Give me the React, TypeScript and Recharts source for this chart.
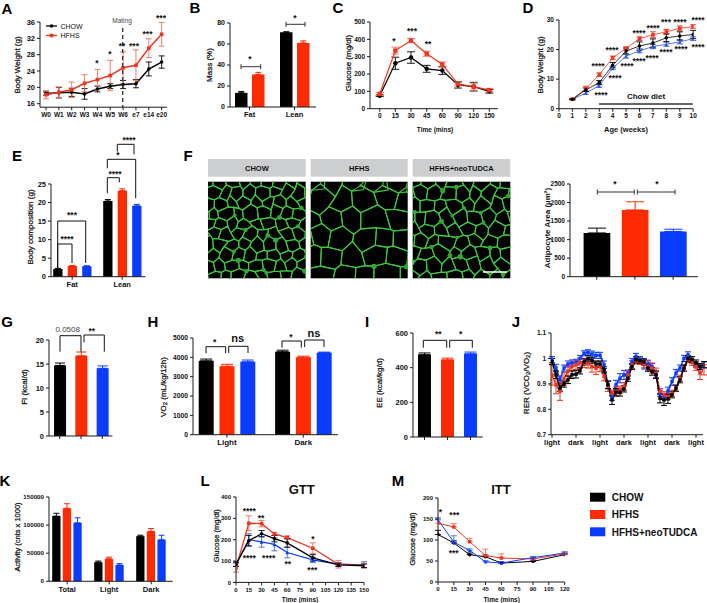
import { BarChart, Bar, LineChart, Line, XAxis, YAxis, ErrorBar } from 'recharts';

const FONT = '"Liberation Sans", Arial, sans-serif';
const BLACK = '#000000';
const RED = '#ff2a00';
const BLUE = '#0a3cff';
const INK = '#1a1a1a';

// A body weight
const weekLabels = ['W0', 'W1', 'W2', 'W3', 'W4', 'W5', 'W6', 'e7', 'e14', 'e20'];
const aChow = [18.5, 18.7, 18.8, 18.4, 19.6, 20.3, 20.7, 20.9, 24.5, 26.2];
const aChowErr = [0.4, 1.3, 1.0, 1.3, 0.7, 0.6, 1.0, 1.0, 1.7, 1.5];
const aHfhs = [18.2, 18.8, 19.4, 21, 21.9, 22.9, 24.8, 25.4, 29.6, 33];
const aHfhsErr = [1, 1.3, 1.9, 2.1, 2.5, 3.7, 3.9, 3.8, 2.3, 2.9];

// B mass
const massCats = ['Fat', 'Lean'];
const bChow = [13.5, 71.3];
const bChowErr = [1.3, 0.3];
const bHfhs = [31, 61];
const bHfhsErr = [2, 2];

// C glucose
const cLabels = ['0', '15', '30', '45', '60', '90', '120', '150'];
const cChow = [75, 262, 295, 230, 220, 137, 127, 100];
const cChowErr = [5, 35, 33, 20, 22, 18, 25, 10];
const cHfhs = [85, 335, 393, 317, 255, 142, 127, 107];
const cHfhsErr = [8, 20, 12, 15, 15, 10, 20, 10];

// D offspring weight
const dAges = [1, 2, 3, 4, 5, 6, 7, 8, 9, 10];
const dAgeTicks = [0, 1, 2, 3, 4, 5, 6, 7, 8, 9, 10];
const dChow = [3.2, 6.4, 8.8, 14.7, 19.5, 21.2, 22.2, 24, 24.6, 25.1];
const dChowErr = [0.2, 0.6, 0.7, 0.9, 1.0, 1.4, 1.4, 1.3, 1.4, 1.4];
const dHfhs = [3.2, 6.8, 11.5, 17.2, 20.4, 23.7, 25, 26, 27.2, 27.8];
const dHfhsErr = [0.2, 0.8, 0.6, 0.6, 0.5, 0.6, 1.0, 0.8, 0.8, 0.6];
const dTudca = [3.2, 5.3, 7.8, 13.7, 17.8, 19.6, 21, 21.8, 22.6, 23.7];
const dTudcaErr = [0.2, 0.5, 0.6, 0.5, 0.7, 0.7, 0.7, 0.7, 0.7, 0.6];

// E composition
const eChow = [2.1, 20.4];
const eChowErr = [0.15, 0.4];
const eHfhs = [2.9, 23.2];
const eHfhsErr = [0.15, 0.5];
const eTudca = [2.8, 19.1];
const eTudcaErr = [0.15, 0.4];

// F adipocyte area, G food intake, I energy expenditure
const groupSlots = ['CHOW', 'HFHS', 'HFHS+neoTUDCA'];
const fArea = [1180, 1800, 1220];
const fAreaErr = [130, 220, 60];
const gIntake = [14.7, 16.7, 14.1];
const gIntakeErr = [0.5, 0.8, 0.5];
const iEnergy = [475, 445, 480];
const iEnergyErr = [10, 10, 10];
const microscopyTitles = ['CHOW', 'HFHS', 'HFHS+neoTUDCA'];

// H VO2
const lightDark = ['Light', 'Dark'];
const hChow = [3820, 4290];
const hChowErr = [90, 80];
const hHfhs = [3540, 4010];
const hHfhsErr = [100, 50];
const hTudca = [3770, 4240];
const hTudcaErr = [90, 30];

// J RER, one reading every 2 h
const rerHours = [0, 2, 4, 6, 8, 10, 12, 14, 16, 18, 20, 22, 24, 26, 28, 30, 32, 34, 36, 38, 40, 42, 44, 46, 48, 50, 52, 54, 56, 58, 60, 62, 64, 66, 68, 70, 72, 74, 76];
const rerTickHours = [0, 12, 24, 36, 48, 60, 72];
const rerTickLabels = ['light', 'dark', 'light', 'dark', 'light', 'dark', 'light'];
const rerChow = [0.988, 0.936, 0.883, 0.899, 0.916, 0.936, 0.938, 0.951, 0.986, 0.999, 0.993, 0.978, 0.978, 0.955, 0.896, 0.837, 0.867, 0.867, 0.88, 0.922, 0.968, 0.995, 0.991, 0.986, 0.962, 0.949, 0.936, 0.843, 0.837, 0.841, 0.857, 0.883, 0.916, 0.962, 0.999, 0.995, 0.982, 0.968, 0.975];
const rerChowErr = [0.012, 0.015, 0.012, 0.012, 0.015, 0.015, 0.015, 0.012, 0.012, 0.012, 0.012, 0.012, 0.012, 0.012, 0.015, 0.018, 0.015, 0.015, 0.012, 0.012, 0.012, 0.012, 0.01, 0.012, 0.012, 0.015, 0.015, 0.018, 0.022, 0.018, 0.012, 0.012, 0.012, 0.012, 0.012, 0.012, 0.012, 0.012, 0.012];
const rerHfhs = [0.935, 0.896, 0.87, 0.92, 0.95, 0.968, 0.975, 0.982, 0.982, 0.98, 0.968, 0.962, 0.968, 0.93, 0.89, 0.863, 0.87, 0.876, 0.89, 0.935, 0.975, 0.99, 0.988, 0.978, 0.968, 0.962, 0.942, 0.87, 0.857, 0.85, 0.863, 0.883, 0.922, 0.962, 0.995, 0.985, 0.968, 0.942, 0.955];
const rerHfhsErr = [0.04, 0.035, 0.035, 0.025, 0.02, 0.018, 0.018, 0.02, 0.018, 0.018, 0.022, 0.025, 0.02, 0.018, 0.02, 0.012, 0.018, 0.015, 0.015, 0.015, 0.015, 0.012, 0.012, 0.015, 0.018, 0.02, 0.02, 0.012, 0.012, 0.012, 0.012, 0.012, 0.012, 0.012, 0.012, 0.012, 0.015, 0.025, 0.02];
const rerTudca = [0.995, 0.962, 0.916, 0.962, 0.978, 0.982, 0.985, 1.0, 1.02, 1.024, 1.017, 1.012, 1.012, 0.975, 0.896, 0.85, 0.896, 0.922, 0.935, 0.942, 0.988, 1.008, 0.995, 0.978, 0.978, 0.968, 0.936, 0.863, 0.85, 0.872, 0.909, 0.942, 0.962, 1.0, 1.014, 0.995, 0.975, 0.968, 0.975];
const rerTudcaErr = [0.012, 0.015, 0.015, 0.012, 0.012, 0.012, 0.012, 0.012, 0.01, 0.01, 0.012, 0.012, 0.012, 0.015, 0.015, 0.015, 0.018, 0.018, 0.018, 0.012, 0.012, 0.012, 0.012, 0.02, 0.015, 0.012, 0.012, 0.012, 0.012, 0.015, 0.015, 0.015, 0.012, 0.012, 0.012, 0.012, 0.012, 0.012, 0.012];

// K activity
const kCats = ['Total', 'Light', 'Dark'];
const kChow = [116000, 34000, 80000];
const kChowErr = [5000, 2000, 2000];
const kHfhs = [130000, 40000, 89000];
const kHfhsErr = [8000, 3000, 5000];
const kTudca = [104000, 29000, 74000];
const kTudcaErr = [9000, 2500, 8000];

// L GTT
const lMins = [0, 15, 30, 45, 60, 90, 120, 150];
const lTicks = [0, 15, 30, 45, 60, 75, 90, 105, 120, 135, 150];
const lChow = [85, 195, 228, 205, 185, 115, 82, 78];
const lChowErr = [10, 25, 15, 15, 20, 15, 8, 8];
const lHfhs = [68, 277, 275, 227, 210, 160, 85, 80];
const lHfhsErr = [20, 35, 15, 8, 8, 25, 18, 10];
const lTudca = [85, 200, 190, 178, 140, 105, 85, 82];
const lTudcaErr = [10, 28, 25, 30, 25, 12, 8, 15];

// M ITT
const mMins = [0, 15, 30, 45, 60, 90, 120];
const mTicks = [0, 15, 30, 45, 60, 75, 90, 105, 120];
const mChow = [113, 93, 65, 60, 45, 49, 65];
const mChowErr = [10, 5, 4, 4, 3, 3, 3];
const mHfhs = [140, 131, 96, 63, 57, 55, 67];
const mHfhsErr = [10, 8, 8, 15, 10, 5, 4];
const mTudca = [148, 95, 75, 48, 45, 58, 69];
const mTudcaErr = [5, 15, 4, 3, 3, 3, 3];

const legendNames = ['CHOW', 'HFHS', 'HFHS+neoTUDCA'];

const PAD_TOP = 12;
const PAD_RIGHT = 8;
const Y_W = 34;
const X_H = 24;

type Plot = [number, number, number, number];

function axisProps(fontSize: number) {
  return {
    stroke: INK,
    strokeWidth: 1,
    tickLine: { stroke: INK },
    tickSize: 3,
    interval: 0 as const,
    tick: { fontSize, fontWeight: 700, fill: '#111', fontFamily: FONT },
  };
}

function frame(plot: Plot) {
  const [x0, y0, x1, y1] = plot;
  return {
    style: { position: 'absolute' as const, left: x0 - Y_W, top: y0 - PAD_TOP },
    width: x1 - x0 + Y_W + PAD_RIGHT,
    height: y1 - y0 + PAD_TOP + X_H,
    margin: { top: PAD_TOP, right: PAD_RIGHT, left: 0, bottom: 0 },
  };
}

type BarSeries = { key: string; color: string; values: (number | null)[]; errors: (number | null)[] };

function BarPanel(props: {
  plot: Plot; yDomain: number[]; yTicks: number[]; cats: string[]; series: BarSeries[];
  center: number; step: number; barSize: number; barGap: number; noLabels?: boolean;
  fontSize?: number; xFontSize?: number; errWidth?: number;
}) {
  const { plot, yDomain, yTicks, cats, series, center, step, barSize, barGap, fontSize = 7 } = props;
  const rows = cats.map((c, i) => {
    const row: Record<string, unknown> = { x: i, name: c };
    series.forEach((s) => {
      if (s.values[i] === null) return;
      row[s.key] = s.values[i];
      row[s.key + 'Err'] = [0, s.errors[i]];
    });
    return row;
  });
  return (
    <BarChart {...frame(plot)} data={rows} barSize={barSize} barGap={barGap}>
      <XAxis
        type="number"
        dataKey="x"
        domain={[(plot[0] - center) / step, (plot[2] - center) / step]}
        ticks={cats.map((_, i) => i)}
        height={X_H}
        allowDataOverflow
        tickFormatter={(v: number) => (props.noLabels ? '' : cats[v])}
        {...axisProps(props.xFontSize ?? fontSize)}
      />
      <YAxis type="number" width={Y_W} domain={yDomain} ticks={yTicks} {...axisProps(fontSize)} />
      {series.map((s) => (
        <Bar key={s.key} dataKey={s.key} fill={s.color} isAnimationActive={false}>
          <ErrorBar dataKey={s.key + 'Err'} width={props.errWidth ?? 3} stroke={s.color} strokeWidth={1} direction="y" />
        </Bar>
      ))}
    </BarChart>
  );
}

type LineSeries = {
  key: string; color: string; values: number[]; errors: number[];
  marker: 'circle' | 'square' | 'triangle'; lighter?: string;
};

function Marker(p: { cx?: number; cy?: number; marker: string; color: string; size: number }) {
  const { cx = 0, cy = 0, marker, color, size } = p;
  if (marker === 'square') return <rect x={cx - size} y={cy - size} width={size * 2} height={size * 2} fill={color} />;
  if (marker === 'triangle')
    return <polygon points={`${cx},${cy - size} ${cx + size},${cy + size} ${cx - size},${cy + size}`} fill={color} />;
  return <circle cx={cx} cy={cy} r={size} fill={color} />;
}

function LinePanel(props: {
  plot: Plot; xs: number[]; xDomain: number[]; xTicks: number[]; xLabel?: (v: number) => string;
  yDomain: number[]; yTicks: number[]; series: LineSeries[]; lineWidth: number; size: number;
  fontSize?: number; xFontSize?: number; errWidth?: number; errStroke?: number; upOnly?: boolean;
}) {
  const { plot, xs, xDomain, xTicks, yDomain, yTicks, series, lineWidth, size, fontSize = 7 } = props;
  const rows = xs.map((x, i) => {
    const row: Record<string, unknown> = { x };
    series.forEach((s) => {
      row[s.key] = s.values[i];
      row[s.key + 'Err'] = [props.upOnly ? 0 : s.errors[i], s.errors[i]];
    });
    return row;
  });
  return (
    <LineChart {...frame(plot)} data={rows}>
      <XAxis
        type="number"
        dataKey="x"
        domain={xDomain}
        ticks={xTicks}
        height={X_H}
        allowDataOverflow
        tickFormatter={props.xLabel ?? ((v: number) => String(v))}
        {...axisProps(props.xFontSize ?? fontSize)}
      />
      <YAxis type="number" width={Y_W} domain={yDomain} ticks={yTicks} allowDataOverflow {...axisProps(fontSize)} />
      {series.map((s) => (
        <Line
          key={s.key}
          dataKey={s.key}
          stroke={s.color}
          strokeWidth={lineWidth}
          isAnimationActive={false}
          dot={(d: any) => <Marker key={d.index} cx={d.cx} cy={d.cy} marker={s.marker} color={s.color} size={size} />}
        >
          <ErrorBar dataKey={s.key + 'Err'} width={props.errWidth ?? 3} stroke={s.lighter ?? s.color} strokeWidth={props.errStroke ?? 0.9} direction="y" />
        </Line>
      ))}
    </LineChart>
  );
}

function T(p: {
  x: number; y: number; children: React.ReactNode; size?: number; bold?: boolean; rotate?: boolean;
  anchor?: 'middle' | 'start'; fill?: string;
}) {
  const { x, y, size = 8, bold = false, rotate = false, anchor = 'middle', fill = '#111' } = p;
  return (
    <text
      x={x}
      y={y}
      fontSize={size}
      fontWeight={bold ? 700 : 400}
      textAnchor={anchor}
      dominantBaseline="central"
      fill={fill}
      stroke={rotate && !bold ? fill : undefined}
      strokeWidth={rotate && !bold ? 0.25 : undefined}
      fontFamily={FONT}
      transform={rotate ? `rotate(-90 ${x} ${y})` : undefined}
    >
      {p.children}
    </text>
  );
}

const Stars = (p: { x: number; y: number; n: number }) => (
  <T x={p.x} y={p.y + 1.5} size={8.5} bold>
    {'*'.repeat(p.n)}
  </T>
);

const Letter = (p: { x: number; y: number; c: string }) => (
  <T x={p.x} y={p.y} size={15} bold fill="#000">
    {p.c}
  </T>
);

// bracket: top bar with legs reaching down to b0 and b1
const Br = (p: { x0: number; x1: number; top: number; b0: number; b1: number }) => (
  <path
    d={`M${p.x0} ${p.b0}V${p.top}H${p.x1}V${p.b1}`}
    fill="none"
    stroke="#111"
    strokeWidth={1}
  />
);

// flat bar with end caps
const Cap = (p: { x0: number; x1: number; y: number }) => (
  <path
    d={`M${p.x0} ${p.y - 2.5}V${p.y + 2.5}M${p.x0} ${p.y}H${p.x1}M${p.x1} ${p.y - 2.5}V${p.y + 2.5}`}
    fill="none"
    stroke="#333"
    strokeWidth={1}
  />
);

// stand-in for a confocal image: a hash-jittered hexagon mesh, not chart data
function hash(a: number, b: number, seed: number) {
  const s = Math.sin(a * 12.9898 + b * 78.233 + seed * 37.719) * 43758.5453;
  return s - Math.floor(s);
}

function Mesh(p: { x: number; y: number; w: number; h: number; r: number; seed: number; id: string }) {
  const { x, y, w, h, r, seed, id } = p;
  const dx = Math.sqrt(3) * r;
  const dy = 1.5 * r;
  const polys: string[] = [];
  const blobs: { cx: number; cy: number; rr: number }[] = [];
  for (let row = -1; row * dy < h + dy; row++) {
    for (let col = -1; col * dx < w + dx; col++) {
      const cx = col * dx + (row % 2 ? dx / 2 : 0);
      const cy = row * dy;
      const corners = [0, 1, 2, 3, 4, 5].map((k) => {
        const ang = Math.PI / 6 + (k * Math.PI) / 3;
        const vx = cx + r * Math.cos(ang);
        const vy = cy + r * Math.sin(ang);
        const ka = Math.round(vx * 2);
        const kb = Math.round(vy * 2);
        const jx = (hash(ka, kb, seed) - 0.5) * r * 0.7;
        const jy = (hash(kb, ka, seed + 1) - 0.5) * r * 0.7;
        return [x + vx + jx, y + vy + jy];
      });
      polys.push(corners.map((c) => `${c[0].toFixed(1)},${c[1].toFixed(1)}`).join(' '));
      if (hash(row, col, seed + 2) > 0.8) {
        const c = corners[Math.floor(hash(col, row, seed + 3) * 6)];
        blobs.push({ cx: c[0], cy: c[1], rr: 1.2 + hash(row, col, seed + 4) * 1.6 });
      }
    }
  }
  return (
    <g>
      <clipPath id={id}>
        <rect x={x} y={y} width={w} height={h} />
      </clipPath>
      <rect x={x} y={y} width={w} height={h} fill="#000" />
      <g clipPath={`url(#${id})`}>
        {polys.map((pts, i) => (
          <polygon key={i} points={pts} fill="none" stroke="#3ccb3c" strokeWidth={1.1} strokeLinejoin="round" />
        ))}
        {blobs.map((b, i) => (
          <circle key={i} cx={b.cx} cy={b.cy} r={b.rr} fill="#32a832" />
        ))}
      </g>
    </g>
  );
}

const sBar = (values: number[], errors: number[], key: string, color: string): BarSeries => ({ key, color, values, errors });

// one bar per slot: each group only has a value in its own slot
const soloBars = (values: number[], errors: number[]): BarSeries[] =>
  [['chow', BLACK], ['hfhs', RED], ['tudca', BLUE]].map(([key, color], i) => ({
    key,
    color,
    values: values.map((v, j) => (j === i ? v : null)),
    errors: errors.map((v, j) => (j === i ? v : null)),
  }));

export default function App() {
  return (
    <div style={{ position: 'absolute', left: 0, top: 0, width: 707, height: 603, background: '#fff', overflow: 'hidden' }}>
      {/* A */}
      <LinePanel
        plot={[40, 22.3, 167, 107.5]}
        xs={weekLabels.map((_, i) => i)}
        xDomain={[(40 - 46) / 12.85, (167 - 46) / 12.85]}
        xTicks={weekLabels.map((_, i) => i)}
        xLabel={(v) => weekLabels[v]}
        yDomain={[15.15, 36]}
        yTicks={[16, 20, 24, 28, 32, 36]}
        lineWidth={1.5}
        size={1.8}
        fontSize={7.5}
        xFontSize={6.5}
        series={[
          { key: 'chow', color: BLACK, values: aChow, errors: aChowErr, marker: 'circle' },
          { key: 'hfhs', color: '#ee3520', lighter: '#f0705e', values: aHfhs, errors: aHfhsErr, marker: 'square' },
        ]}
      />
      {/* B */}
      <BarPanel
        plot={[230, 23.3, 316, 107.3]}
        yDomain={[0, 80]}
        yTicks={[0, 20, 40, 60, 80]}
        cats={massCats}
        center={249.5}
        step={45}
        barSize={12.5}
        barGap={4.5}
        fontSize={7}
        xFontSize={7.5}
        series={[sBar(bChow, bChowErr, 'chow', BLACK), sBar(bHfhs, bHfhsErr, 'hfhs', RED)]}
      />
      {/* C */}
      <LinePanel
        plot={[370, 22, 498, 108.7]}
        xs={cLabels.map((_, i) => i)}
        xDomain={[(370 - 379.7) / 15.66, (498 - 379.7) / 15.66]}
        xTicks={cLabels.map((_, i) => i)}
        xLabel={(v) => cLabels[v]}
        yDomain={[0, 500]}
        yTicks={[0, 100, 200, 300, 400, 500]}
        lineWidth={1.2}
        size={2.2}
        fontSize={6.5}
        errWidth={4}
        series={[
          { key: 'chow', color: BLACK, values: cChow, errors: cChowErr, marker: 'circle' },
          { key: 'hfhs', color: '#ee3520', lighter: '#f0705e', values: cHfhs, errors: cHfhsErr, marker: 'square' },
        ]}
      />
      {/* D */}
      <LinePanel
        plot={[558.5, 20, 692.7, 108.7]}
        xs={dAges}
        xDomain={[0, 10]}
        xTicks={dAgeTicks}
        yDomain={[0, 30]}
        yTicks={[0, 10, 20, 30]}
        lineWidth={0.8}
        size={1.8}
        fontSize={6.5}
        series={[
          { key: 'tudca', color: '#2a55e8', values: dTudca, errors: dTudcaErr, marker: 'triangle' },
          { key: 'hfhs', color: '#ee3520', values: dHfhs, errors: dHfhsErr, marker: 'square' },
          { key: 'chow', color: BLACK, values: dChow, errors: dChowErr, marker: 'circle' },
        ]}
      />
      {/* E */}
      <BarPanel
        plot={[50.7, 184, 145, 276.7]}
        yDomain={[0, 25]}
        yTicks={[0, 5, 10, 15, 20, 25]}
        cats={massCats}
        center={71.9}
        step={50}
        barSize={9.3}
        barGap={5.2}
        fontSize={7.5}
        series={[sBar(eChow, eChowErr, 'chow', BLACK), sBar(eHfhs, eHfhsErr, 'hfhs', RED), sBar(eTudca, eTudcaErr, 'tudca', BLUE)]}
      />
      {/* F bars */}
      <BarPanel
        plot={[570, 184.3, 698, 277]}
        yDomain={[0, 2500]}
        yTicks={[0, 500, 1000, 1500, 2000, 2500]}
        cats={groupSlots}
        center={596.7}
        step={38.2}
        noLabels
        barSize={26.7}
        barGap={-26.7}
        fontSize={6.5}
        errWidth={9}
        series={soloBars(fArea, fAreaErr)}
      />
      {/* G */}
      <BarPanel
        plot={[49.3, 340, 112.7, 436]}
        yDomain={[0, 20]}
        yTicks={[0, 5, 10, 15, 20]}
        cats={groupSlots}
        center={60}
        step={21.3}
        noLabels
        barSize={12}
        barGap={-12}
        fontSize={7.5}
        errWidth={5}
        series={soloBars(gIntake, gIntakeErr)}
      />
      {/* H */}
      <BarPanel
        plot={[192.7, 338.3, 337.7, 435]}
        yDomain={[0, 5000]}
        yTicks={[0, 1000, 2000, 3000, 4000, 5000]}
        cats={lightDark}
        center={226.6}
        step={76.4}
        barSize={15}
        barGap={5.8}
        fontSize={6.7}
        xFontSize={8}
        errWidth={6}
        series={[sBar(hChow, hChowErr, 'chow', BLACK), sBar(hHfhs, hHfhsErr, 'hfhs', RED), sBar(hTudca, hTudcaErr, 'tudca', BLUE)]}
      />
      {/* I */}
      <BarPanel
        plot={[413.3, 332.7, 483, 436.7]}
        yDomain={[0, 600]}
        yTicks={[0, 200, 400, 600]}
        cats={groupSlots}
        center={424.8}
        step={23}
        noLabels
        barSize={13}
        barGap={-13}
        fontSize={7.5}
        errWidth={6}
        series={soloBars(iEnergy, iEnergyErr)}
      />
      {/* J */}
      <LinePanel
        plot={[551, 333.3, 703, 435]}
        xs={rerHours}
        xDomain={[-0.5, 75.5]}
        xTicks={rerTickHours}
        xLabel={(v) => rerTickLabels[v / 12]}
        yDomain={[0.7, 1.1]}
        yTicks={[0.7, 0.8, 0.9, 1.0, 1.1]}
        lineWidth={1.5}
        size={1.7}
        fontSize={6.5}
        xFontSize={7.5}
        errWidth={3}
        errStroke={1}
        series={[
          { key: 'tudca', color: BLUE, values: rerTudca, errors: rerTudcaErr, marker: 'square' },
          { key: 'hfhs', color: '#f0341c', values: rerHfhs, errors: rerHfhsErr, marker: 'square' },
          { key: 'chow', color: BLACK, values: rerChow, errors: rerChowErr, marker: 'square' },
        ]}
      />
      {/* K */}
      <BarPanel
        plot={[49.3, 496.7, 173, 581]}
        yDomain={[0, 150000]}
        yTicks={[0, 50000, 100000, 150000]}
        cats={kCats}
        center={67.5}
        step={42}
        barSize={8.3}
        barGap={2.3}
        fontSize={6.2}
        xFontSize={7.5}
        errWidth={3}
        series={[sBar(kChow, kChowErr, 'chow', BLACK), sBar(kHfhs, kHfhsErr, 'hfhs', RED), sBar(kTudca, kTudcaErr, 'tudca', BLUE)]}
      />
      {/* L */}
      <LinePanel
        plot={[236, 497.3, 364, 582.7]}
        xs={lMins}
        xDomain={[0, 150]}
        xTicks={lTicks}
        yDomain={[0, 400]}
        yTicks={[0, 100, 200, 300, 400]}
        lineWidth={1.3}
        size={1.8}
        fontSize={6}
        series={[
          { key: 'tudca', color: BLUE, lighter: '#3f66ee', values: lTudca, errors: lTudcaErr, marker: 'triangle' },
          { key: 'hfhs', color: '#ee3520', lighter: '#f0705e', values: lHfhs, errors: lHfhsErr, marker: 'square' },
          { key: 'chow', color: BLACK, values: lChow, errors: lChowErr, marker: 'circle' },
        ]}
      />
      {/* M */}
      <LinePanel
        plot={[438.3, 498, 565, 582]}
        xs={mMins}
        xDomain={[0, 120]}
        xTicks={mTicks}
        yDomain={[0, 200]}
        yTicks={[0, 50, 100, 150, 200]}
        lineWidth={1}
        size={1.7}
        fontSize={6}
        upOnly
        series={[
          { key: 'chow', color: BLACK, values: mChow, errors: mChowErr, marker: 'circle' },
          { key: 'hfhs', color: '#ee3520', lighter: '#f0705e', values: mHfhs, errors: mHfhsErr, marker: 'square' },
          { key: 'tudca', color: BLUE, lighter: '#3f66ee', values: mTudca, errors: mTudcaErr, marker: 'triangle' },
        ]}
      />

      <svg width={707} height={603} style={{ position: 'absolute', left: 0, top: 0, pointerEvents: 'none' }}>
        <Letter x={7} y={8} c="A" />
        <Letter x={195} y={7} c="B" />
        <Letter x={338} y={7} c="C" />
        <Letter x={528} y={7} c="D" />
        <Letter x={17} y={155} c="E" />
        <Letter x={188} y={155} c="F" />
        <Letter x={7} y={321} c="G" />
        <Letter x={153} y={321} c="H" />
        <Letter x={367} y={321} c="I" />
        <Letter x={516} y={321} c="J" />
        <Letter x={5} y={480} c="K" />
        <Letter x={205} y={480} c="L" />
        <Letter x={398} y={480} c="M" />

        {/* A notes */}
        <T x={17} y={65} rotate>Body Weight (g)</T>
        <line x1={122.7} x2={122.7} y1={28} y2={107} stroke="#333" strokeWidth={1.3} strokeDasharray="4 3" />
        <T x={122} y={20} size={6.5} fill="#444">Mating</T>
        <line x1={46} x2={57} y1={26} y2={26} stroke="#000" strokeWidth={1.3} />
        <circle cx={51.5} cy={26} r={1.8} fill="#000" />
        <T x={60.5} y={26} size={7} anchor="start">CHOW</T>
        <line x1={46} x2={57} y1={35.5} y2={35.5} stroke="#ee3520" strokeWidth={1.3} />
        <rect x={49.7} y={33.7} width={3.6} height={3.6} fill="#ee3520" />
        <T x={60.5} y={35.5} size={7} anchor="start">HFHS</T>
        <Stars x={97} y={61} n={1} />
        <Stars x={110} y={52} n={1} />
        <Stars x={122} y={44} n={2} />
        <Stars x={134} y={44} n={3} />
        <Stars x={147.5} y={32} n={3} />
        <Stars x={161} y={16} n={3} />

        {/* B notes */}
        <T x={209} y={65} rotate>Mass (%)</T>
        <Cap x0={241} x1={260.7} y={66.7} />
        <Stars x={250} y={57} n={1} />
        <Cap x0={286} x1={305} y={24.3} />
        <Stars x={295} y={16} n={1} />

        {/* C notes */}
        <T x={348} y={63} rotate>Glucose (mg/dl)</T>
        <T x={435} y={129} size={6.5} bold>Time (mins)</T>
        <Stars x={394} y={39} n={1} />
        <Stars x={412} y={29} n={3} />
        <Stars x={428} y={42} n={2} />

        {/* D notes */}
        <T x={540} y={65} rotate>Body Weight (g)</T>
        <T x={626} y={129} size={7.5} bold>Age (weeks)</T>
        <line x1={599} x2={692.7} y1={104} y2={104} stroke="#333" strokeWidth={1.5} />
        <T x={646} y={96} bold>Chow diet</T>
        <Stars x={598} y={64} n={4} />
        <Stars x={612} y={48} n={4} />
        <Stars x={639} y={31} n={4} />
        <Stars x={653} y={26} n={4} />
        <Stars x={666} y={20} n={3} />
        <Stars x={680} y={20} n={4} />
        <Stars x={698} y={18} n={4} />
        <Stars x={601} y={93} n={4} />
        <Stars x={615} y={76} n={4} />
        <Stars x={627} y={64} n={4} />
        <Stars x={639} y={59} n={4} />
        <Stars x={652} y={56} n={4} />
        <Stars x={666} y={50} n={4} />
        <Stars x={681} y={47} n={4} />
        <Stars x={698} y={45} n={4} />

        {/* E notes */}
        <T x={30} y={227} rotate>Body composition (g)</T>
        <Br x0={117.3} x1={134} top={144.3} b0={151.7} b1={154.3} />
        <Br x0={107.3} x1={135.7} top={159.3} b0={168.3} b1={198.3} />
        <Br x0={107.3} x1={119.3} top={177.7} b0={193} b1={182.3} />
        <Br x0={57.7} x1={85.7} top={221} b0={268} b1={263} />
        <Br x0={57.7} x1={72} top={244} b0={268} b1={263} />
        <Stars x={115} y={172} n={4} />
        <Stars x={118} y={153} n={1} />
        <Stars x={129} y={138} n={4} />
        <Stars x={72} y={213} n={3} />
        <Stars x={67} y={237} n={4} />

        {/* F images */}
        {microscopyTitles.map((t, i) => {
          const left = [208, 310.7, 412.7][i];
          const wid = [97.7, 97, 97.6][i];
          return (
            <g key={t}>
              <rect x={left} y={159} width={wid} height={17.7} fill="#cdcecf" />
              <T x={left + wid / 2} y={168} size={7.5} bold>{t}</T>
              <Mesh x={left} y={181.7} w={wid} h={96.6} r={[7, 12.5, 8][i]} seed={i + 1} id={`mesh${i}`} />
            </g>
          );
        })}
        <line x1={483} x2={507} y1={272} y2={272} stroke="#fff" strokeWidth={1.5} />
        <T x={547} y={228} rotate bold size={8}>
          Adipocyte Area (µm²)
        </T>
        <Cap x0={597.3} x1={634.3} y={192} />
        <Cap x0={637.3} x1={675} y={192} />
        <Stars x={615} y={182} n={1} />
        <Stars x={657} y={182} n={1} />

        {/* G notes */}
        <T x={24} y={387} rotate>FI (kcal/d)</T>
        <Br x0={60} x1={81} top={335.7} b0={351.7} b1={351.7} />
        <Br x0={84} x1={104.3} top={335} b0={342.3} b1={351.7} />
        <T x={67.7} y={329.7} fill="#444">0.0508</T>
        <Stars x={91.7} y={329} n={2} />

        {/* H notes */}
        <T x={163} y={387} rotate>
          VO<tspan fontSize={6} dy={2}>2</tspan><tspan dy={-2}> (mL/kg/12h)</tspan>
        </T>
        <Br x0={206} x1={225.7} top={346.7} b0={353.3} b1={353.3} />
        <Br x0={228.7} x1={248} top={346.3} b0={353} b1={353} />
        <Stars x={214.7} y={340} n={1} />
        <T x={237.7} y={338} size={11} bold>ns</T>
        <Br x0={282} x1={301.3} top={341} b0={347.7} b1={347.7} />
        <Br x0={304.7} x1={324} top={340} b0={347} b1={347} />
        <Stars x={291} y={335} n={1} />
        <T x={314} y={333} size={11} bold>ns</T>

        {/* I notes */}
        <T x={379} y={383} rotate>EE (kcal/kg/d)</T>
        <Br x0={423.3} x1={446.7} top={340.3} b0={347.7} b1={347.7} />
        <Br x0={449.7} x1={472.3} top={340.3} b0={347.7} b1={347.7} />
        <Stars x={438.3} y={332} n={2} />
        <Stars x={460.7} y={332} n={1} />

        {/* J notes */}
        <T x={526} y={383} rotate>
          RER (VCO<tspan fontSize={6} dy={2}>2</tspan><tspan dy={-2}>/VO</tspan><tspan fontSize={6} dy={2}>2</tspan><tspan dy={-2}>)</tspan>
        </T>

        {/* K notes */}
        <T x={17} y={537} rotate size={7.5}>Activity (cnts x 1000)</T>

        {/* L notes */}
        <T x={301.7} y={489} size={13} bold>GTT</T>
        <T x={216.7} y={535.7} rotate size={7.5}>Glucose (mg/dl)</T>
        <T x={300} y={599} size={6.5} bold>Time (mins)</T>
        <Stars x={249.3} y={509} n={4} />
        <Stars x={261} y={516} n={2} />
        <Stars x={313} y={537} n={1} />
        <Stars x={249.3} y={556} n={4} />
        <Stars x={268.7} y={556} n={4} />
        <Stars x={287.7} y={562} n={2} />
        <Stars x={312.3} y={568} n={3} />

        {/* M notes */}
        <T x={501} y={489} size={13} bold>ITT</T>
        <T x={412} y={539} rotate size={7.5}>Glucose (mg/dl)</T>
        <T x={501.7} y={599} size={6.5} bold>Time (mins)</T>
        <Stars x={440.3} y={510} n={1} />
        <Stars x={454.3} y={513} n={3} />
        <Stars x={453.7} y={551} n={3} />

        {/* shared legend */}
        {legendNames.map((n, i) => (
          <g key={n}>
            <rect x={590} y={[492.7, 510, 527.3][i]} width={15.3} height={9} fill={[BLACK, RED, BLUE][i]} />
            <T x={611.7} y={[497, 514.5, 532][i]} size={10} bold anchor="start">{n}</T>
          </g>
        ))}
      </svg>
    </div>
  );
}
